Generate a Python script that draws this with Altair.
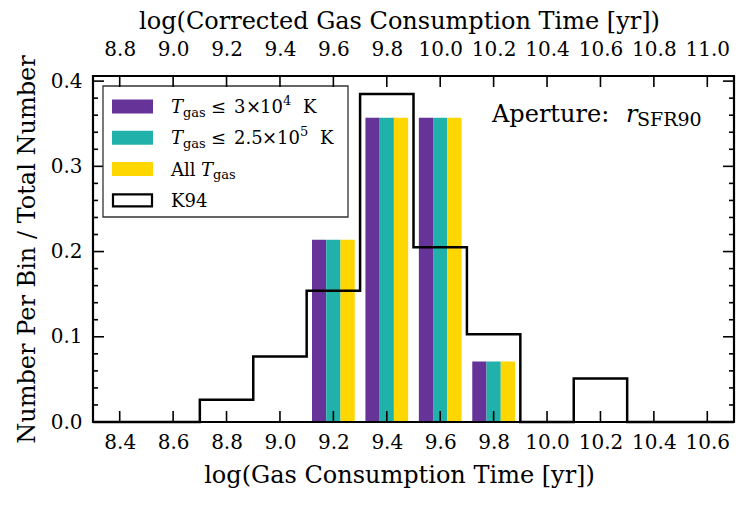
import altair as alt
import pandas as pd

# ---------------- data ----------------
bin_centers = [9.2, 9.4, 9.6, 9.8]
series_names = ["Tgas <= 3e4 K", "Tgas <= 2.5e5 K", "All Tgas"]
frac_cold = [0.214, 0.357, 0.357, 0.071]
frac_warm = [0.214, 0.357, 0.357, 0.071]
frac_all = [0.214, 0.357, 0.357, 0.071]
series_colors = ["#663399", "#20B2AA", "#FFD700"]

k94_edges = [8.3, 8.5, 8.7, 8.9, 9.1, 9.3, 9.5, 9.7, 9.9, 10.1, 10.3, 10.5, 10.7]
k94_frac = [0.0, 0.0, 0.026, 0.077, 0.154, 0.385, 0.205, 0.103, 0.0, 0.051, 0.0, 0.0]

bottom_ticks = [8.4, 8.6, 8.8, 9.0, 9.2, 9.4, 9.6, 9.8, 10.0, 10.2, 10.4, 10.6]
top_ticks = [8.8, 9.0, 9.2, 9.4, 9.6, 9.8, 10.0, 10.2, 10.4, 10.6, 10.8, 11.0]
y_major = [0.0, 0.1, 0.2, 0.3, 0.4]
y_minor = [0.02, 0.04, 0.06, 0.08, 0.12, 0.14, 0.16, 0.18, 0.22, 0.24, 0.26, 0.28,
           0.32, 0.34, 0.36, 0.38]

x_domain = [8.3, 10.7]
top_domain = [8.7, 11.1]
y_domain = [0, 0.406]

W, H = 641, 346
FONT = "DejaVu Serif"
TICK_FS = 20
TITLE_FS = 24
LEG_FS = 18
SUB_FS = 13

# ---------------- tables ----------------
bin_width = 0.2
bar_w = bin_width * 0.8 / 3
rows = []
for s_i, (name, vals) in enumerate(zip(series_names, [frac_cold, frac_warm, frac_all])):
    for c, v in zip(bin_centers, vals):
        left = c - 1.5 * bar_w + s_i * bar_w
        rows.append({"series": name, "x": left, "x2": left + bar_w, "frac": v, "base": 0.0})
bars_df = pd.DataFrame(rows)

k94_df = pd.DataFrame({"edge": k94_edges, "frac": k94_frac + [k94_frac[-1]]})

xs = alt.Scale(domain=x_domain, nice=False, zero=False)
ys = alt.Scale(domain=y_domain, nice=False)

bottom_axis = alt.Axis(
    values=bottom_ticks, format=".1f", ticks=False, tickSize=0, domain=False, grid=False,
    labelFont=FONT, labelFontSize=TICK_FS, labelColor="black", labelPadding=26,
    labelBaseline="alphabetic", labelFlush=False, labelOverlap=False,
    title="log(Gas Consumption Time [yr])", titleFont=FONT, titleFontSize=TITLE_FS,
    titleFontWeight="normal", titleColor="black", titleBaseline="alphabetic", titleY=60,
    titleX=306, titleAlign="center", titleAnchor="start",
)
left_axis = alt.Axis(
    values=y_major, format=".1f", ticks=False, tickSize=0, domain=False, grid=False,
    labelFont=FONT, labelFontSize=TICK_FS, labelColor="black", labelPadding=11,
    labelFlush=False, labelOverlap=False,
    title="Number Per Bin / Total Number", titleFont=FONT, titleFontSize=TITLE_FS,
    titleFontWeight="normal", titleColor="black", titleAngle=270, titleBaseline="middle",
    titleAlign="center", titleX=-66, titleY=H / 2,
)
top_axis = alt.Axis(
    orient="top", values=top_ticks, format=".1f", ticks=False, tickSize=0, domain=False,
    grid=False, labelFont=FONT, labelFontSize=TICK_FS, labelColor="black", labelPadding=21,
    labelBaseline="alphabetic", labelFlush=False, labelOverlap=False,
    title="log(Corrected Gas Consumption Time [yr])", titleFont=FONT, titleFontSize=TITLE_FS,
    titleFontWeight="normal", titleColor="black", titleBaseline="alphabetic", titleY=-48,
    titleX=306, titleAlign="center", titleAnchor="start",
)

bars = alt.Chart(bars_df).mark_bar(stroke=None).encode(
    x=alt.X("x:Q", scale=xs, axis=bottom_axis),
    x2="x2:Q",
    y=alt.Y("frac:Q", scale=ys, axis=left_axis),
    y2="base:Q",
    color=alt.Color("series:N", scale=alt.Scale(domain=series_names, range=series_colors),
                    legend=None),
)

k94 = alt.Chart(k94_df).mark_line(interpolate="step-after", color="black",
                                  strokeWidth=2.5).encode(
    x=alt.X("edge:Q", scale=xs),
    y=alt.Y("frac:Q", scale=ys),
)

MAJ, MIN, TW = 11, 5, 1.6
bt_df = pd.DataFrame({"v": bottom_ticks})
bottom_tk = alt.Chart(bt_df).mark_rule(color="black", strokeWidth=TW).encode(
    x=alt.X("v:Q", scale=xs), y=alt.value(H), y2=alt.value(H - MAJ))

ymaj_df = pd.DataFrame({"v": y_major})
ymin_df = pd.DataFrame({"v": y_minor})
left_maj = alt.Chart(ymaj_df).mark_rule(color="black", strokeWidth=TW).encode(
    y=alt.Y("v:Q", scale=ys), x=alt.value(0), x2=alt.value(MAJ))
left_min = alt.Chart(ymin_df).mark_rule(color="black", strokeWidth=TW).encode(
    y=alt.Y("v:Q", scale=ys), x=alt.value(0), x2=alt.value(MIN))
right_maj = alt.Chart(ymaj_df).mark_rule(color="black", strokeWidth=TW).encode(
    y=alt.Y("v:Q", scale=ys), x=alt.value(W), x2=alt.value(W - MAJ))
right_min = alt.Chart(ymin_df).mark_rule(color="black", strokeWidth=TW).encode(
    y=alt.Y("v:Q", scale=ys), x=alt.value(W), x2=alt.value(W - MIN))

one = pd.DataFrame({"a": [0]})


def txt(s, x, y, size=LEG_FS, italic=False, align="left"):
    return alt.Chart(one).mark_text(
        text=s, font=FONT, fontSize=size, fontStyle="italic" if italic else "normal",
        align=align, baseline="alphabetic", color="black",
    ).encode(x=alt.value(x), y=alt.value(y))


def rect(x1, x2, y1, y2, fill, stroke=None, sw=0):
    kw = dict(fill=fill)
    if stroke:
        kw.update(stroke=stroke, strokeWidth=sw)
    return alt.Chart(one).mark_rect(**kw).encode(
        x=alt.value(x1), x2=alt.value(x2), y=alt.value(y1), y2=alt.value(y2))


legend_layers = [rect(10, 255, 10, 141, "white", "#333333", 1.3)]
row_c = [30.5, 61.8, 93.1, 124.4]
for rc, col in zip(row_c[:3], series_colors):
    legend_layers.append(rect(19, 60, rc - 7, rc + 7, col))
legend_layers.append(rect(20, 59, row_c[3] - 6, row_c[3] + 6, "white", "black", 2.2))

b = [rc + 6.5 for rc in row_c]
legend_layers += [
    txt("T", 78, b[0], italic=True), txt("gas", 90, b[0] + 3.5, SUB_FS),
    txt("≤", 118, b[0]), txt("3", 141, b[0]), txt("×", 153, b[0]), txt("10", 167, b[0]),
    txt("4", 190, b[0] - 8, SUB_FS), txt("K", 210, b[0]),
    txt("T", 78, b[1], italic=True), txt("gas", 90, b[1] + 3.5, SUB_FS),
    txt("≤", 118, b[1]), txt("2.5", 141, b[1]), txt("×", 169, b[1]), txt("10", 184, b[1]),
    txt("5", 207, b[1] - 8, SUB_FS), txt("K", 227, b[1]),
    txt("All", 78, b[2]), txt("T", 108, b[2], italic=True), txt("gas", 120, b[2] + 3.5, SUB_FS),
    txt("K94", 78, b[3]),
]

annot = [
    txt("Aperture:", 399, 46, 24),
    txt("r", 533, 46, 24, italic=True),
    txt("SFR90", 544, 50, 19),
]

frame = alt.Chart(one).mark_rect(fill=None, fillOpacity=0, stroke="black",
                                 strokeWidth=2.2).encode(
    x=alt.value(0), x2=alt.value(W), y=alt.value(0), y2=alt.value(H))

bottom_group = alt.layer(bars, k94, bottom_tk, left_maj, left_min, right_maj, right_min,
                         *legend_layers, *annot, frame)

tt_df = pd.DataFrame({"v": top_ticks})
top_tk = alt.Chart(tt_df).mark_rule(color="black", strokeWidth=TW).encode(
    x=alt.X("v:Q", scale=alt.Scale(domain=top_domain, nice=False, zero=False), axis=top_axis),
    y=alt.value(0), y2=alt.value(MAJ),
)

chart = alt.layer(bottom_group, top_tk).resolve_scale(x="independent").properties(
    width=W, height=H,
    autosize=alt.AutoSizeParams(type="none"),
    padding={"left": 93, "top": 76, "right": 14, "bottom": 85},
).configure_view(stroke=None).configure(background="white")

chart.save("out.html", embed_options={"renderer": "svg", "actions": False})
